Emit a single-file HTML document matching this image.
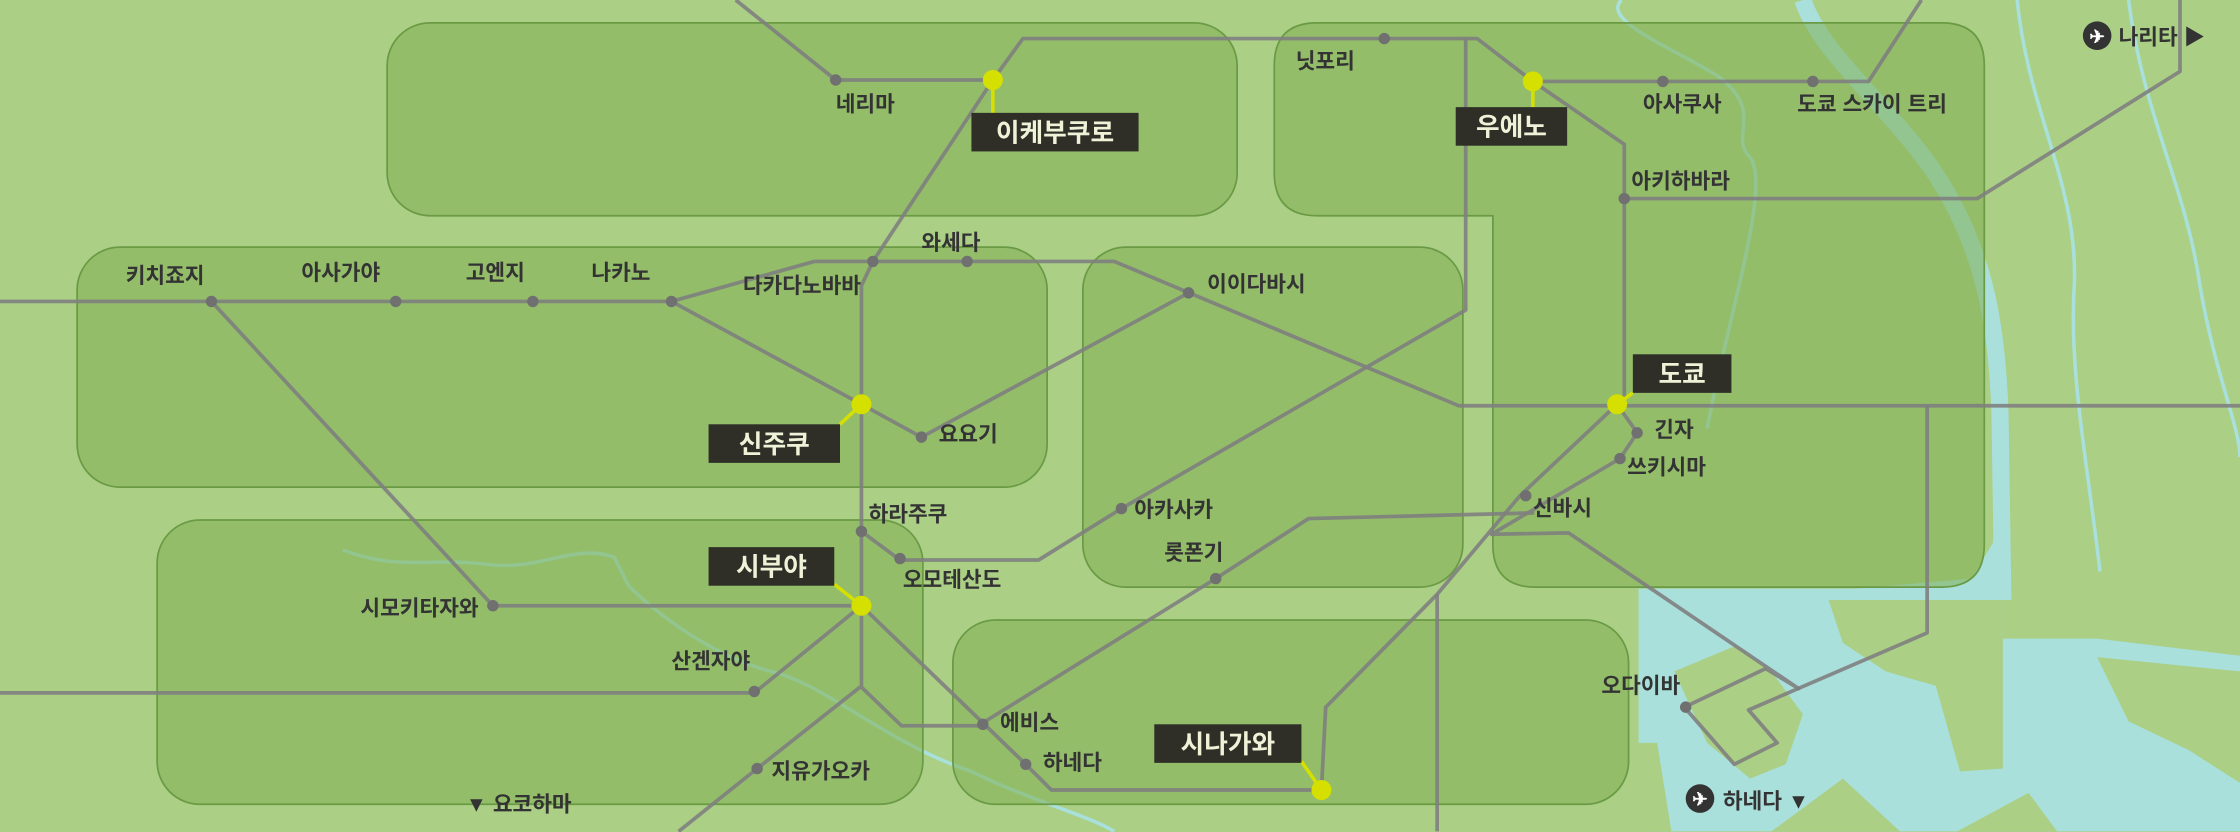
<!DOCTYPE html>
<html><head><meta charset="utf-8"><style>
html,body{margin:0;padding:0;background:#aacf85;}
svg{display:block;}
text{font-family:"Liberation Sans","Noto Sans CJK KR","NanumGothic",sans-serif;}
.s{font-size:15px;font-weight:bold;fill:#333;}
.b{font-size:18px;font-weight:bold;fill:#eef3d8;}
</style></head><body>
<svg width="2240" height="832" viewBox="0 0 1568 582.4" xmlns="http://www.w3.org/2000/svg">
<rect x="0" y="0" width="1568" height="583" fill="#aacf85"/>
<!-- water -->
<path d="M1147,412 L1300,412 L1380,405 L1395,380 L1402,300 L1402,447 L1468,447 L1568,459 L1568,582 L1147,582 Z" fill="#a9e0dc"/>
<path d="M1262,0 C1275,40 1330,80 1360,130 C1390,180 1398,230 1400,290 L1402,420" fill="none" stroke="#a9e0dc" stroke-width="12"/>
<!-- land in bay -->
<g fill="#aacf85">
<path d="M1280,420 L1402,420 L1402,538 L1372,540 L1355,480 L1320,470 L1290,450 Z"/>
<path d="M1172,470 L1215,452 L1240,470 L1262,500 L1250,535 L1225,545 L1195,520 Z"/>
<path d="M1240,582 L1290,545 L1330,582 Z"/>
<path d="M1370,582 L1420,555 L1440,582 Z"/>
<path d="M1468,460 L1568,470 L1568,548 L1532,525 L1490,505 Z"/>
<path d="M1147,520 L1160,520 L1170,582 L1147,582 Z"/>
</g>
<!-- thin rivers -->
<path d="M1135,0 C1120,15 1175,35 1205,55 C1235,80 1210,95 1225,110 C1240,130 1210,220 1195,300" fill="none" stroke="#a9e0dc" stroke-width="2.5"/>
<path d="M1412,0 C1420,80 1455,130 1452,200 C1448,260 1462,330 1470,400" fill="none" stroke="#a9e0dc" stroke-width="2.5"/>
<path d="M1490,0 C1500,80 1530,130 1540,200 C1550,260 1568,300 1568,320" fill="none" stroke="#a9e0dc" stroke-width="2.5"/>
<path d="M240,385 C280,400 300,390 340,395 C380,400 400,380 430,390 L440,410 C460,430 500,460 540,470 C580,480 620,520 680,540 C720,560 760,570 780,582" fill="none" stroke="#a9e0dc" stroke-width="2.5"/>
<!-- boxes -->
<g fill="#7fae52" fill-opacity="0.55" stroke="#6a9a44" stroke-width="1.2">
<rect x="271" y="16" width="595" height="135" rx="30"/>
<rect x="54" y="173" width="679" height="168" rx="30"/>
<rect x="758" y="173" width="266" height="238" rx="30"/>
<path d="M922,16 L1359,16 Q1389,16 1389,46 L1389,381 Q1389,411 1359,411 L1075,411 Q1045,411 1045,381 L1045,151 L922,151 Q892,151 892,121 L892,46 Q892,16 922,16 Z"/>
<rect x="110" y="364" width="536" height="199" rx="30"/>
<rect x="667" y="434" width="473" height="129" rx="30"/>
</g>
<!-- lines -->
<g fill="none" stroke="#808080" stroke-width="2.6" stroke-linejoin="round" stroke-opacity="0.9">
<polyline points="515,0 585,56 695,56"/>
<polyline points="695,56 716,27 1034,27 1073,57 1137,101 1137,283"/>
<polyline points="695,56 611,183 603,200 603,481 631,508 689,508"/>
<polyline points="603,424 688,506 718,535 736,553 925,553 928,495 1006,416 1064,347 1132,283"/>
<polyline points="688,506 851,405 916,363 1074,359"/>
<polyline points="475,582 530,538 602,481"/>
<polyline points="0,485 528,485 603,424"/>
<polyline points="345,424 603,424"/>
<polyline points="148,211 345,424"/>
<polyline points="0,211 470,211 570,183 780,183 1021,284 1568,284"/>
<polyline points="470,211 603,283 645,306 832,205"/>
<polyline points="603,372 630,392 727,392 785,356 1026,217 1026,27"/>
<polyline points="1073,57 1308,57 1345,0"/>
<polyline points="1137,139 1384,139 1526,50 1526,0"/>
<polyline points="1132,283 1146,303 1134,321 1044,374 1098,373 1259,482 1236,468"/>
<polyline points="1006,416 1006,582"/>
<polyline points="1349,284 1349,443 1224,497 1244,520 1214,535 1179,495 1236,468"/>
</g>
<!-- dots -->
<g fill="#707070">
<circle cx="585" cy="56" r="4"/><circle cx="969" cy="27" r="4"/><circle cx="1164" cy="57" r="4"/><circle cx="1269" cy="57" r="4"/>
<circle cx="1137" cy="139" r="4"/><circle cx="148" cy="211" r="4"/><circle cx="277" cy="211" r="4"/><circle cx="373" cy="211" r="4"/>
<circle cx="470" cy="211" r="4"/><circle cx="611" cy="183" r="4"/><circle cx="677" cy="183" r="4"/><circle cx="832" cy="205" r="4"/>
<circle cx="645" cy="306" r="4"/><circle cx="603" cy="372" r="4"/><circle cx="630" cy="391" r="4"/><circle cx="785" cy="356" r="4"/>
<circle cx="851" cy="405" r="4"/><circle cx="1146" cy="303" r="4"/><circle cx="1134" cy="321" r="4"/><circle cx="1068" cy="347" r="4"/>
<circle cx="345" cy="424" r="4"/><circle cx="528" cy="484" r="4"/><circle cx="688" cy="507" r="4"/><circle cx="718" cy="535" r="4"/>
<circle cx="530" cy="538" r="4"/><circle cx="1180" cy="495" r="4"/>
</g>
<!-- yellow stems and dots -->
<g stroke="#d6e000" stroke-width="2.5">
<line x1="695" y1="56" x2="695" y2="79"/><line x1="1073" y1="57" x2="1073" y2="75"/>
<line x1="603" y1="283" x2="588" y2="297"/><line x1="584" y1="409" x2="603" y2="424"/>
<line x1="1143" y1="275" x2="1132" y2="283"/><line x1="911" y1="533" x2="925" y2="553"/>
</g>
<g fill="#d6e000">
<circle cx="695" cy="56" r="7"/><circle cx="1073" cy="57" r="7"/><circle cx="603" cy="283" r="7"/>
<circle cx="603" cy="424" r="7"/><circle cx="1132" cy="283" r="7"/><circle cx="925" cy="553" r="7"/>
</g>
<!-- black labels -->
<g fill="#2f2f28">
<rect x="680" y="79" width="117" height="27"/><rect x="1019" y="75" width="78" height="27"/>
<rect x="496" y="297" width="92" height="27"/><rect x="496" y="383" width="88" height="27"/>
<rect x="1143" y="248" width="69" height="27"/><rect x="808" y="507" width="103" height="27"/>
</g>
<text class="b" x="738.5" y="99" text-anchor="middle">이케부쿠로</text>
<text class="b" x="1058" y="95" text-anchor="middle">우에노</text>
<text class="b" x="542" y="317" text-anchor="middle">신주쿠</text>
<text class="b" x="540" y="403" text-anchor="middle">시부야</text>
<text class="b" x="1177.5" y="268" text-anchor="middle">도쿄</text>
<text class="b" x="859.5" y="527" text-anchor="middle">시나가와</text>
<!-- station labels -->
<text class="s" x="585" y="78">네리마</text>
<text class="s" x="907" y="48">닛포리</text>
<text class="s" x="1150" y="78">아사쿠사</text>
<text class="s" x="1258" y="78">도쿄 스카이 트리</text>
<text class="s" x="1142" y="132">아키하바라</text>
<text class="s" x="88" y="198">키치죠지</text>
<text class="s" x="211" y="196">아사가야</text>
<text class="s" x="326" y="196">고엔지</text>
<text class="s" x="414" y="196">나카노</text>
<text class="s" x="645" y="175">와세다</text>
<text class="s" x="520" y="205">다카다노바바</text>
<text class="s" x="845" y="204">이이다바시</text>
<text class="s" x="657" y="309">요요기</text>
<text class="s" x="608" y="365">하라주쿠</text>
<text class="s" x="632" y="411">오모테산도</text>
<text class="s" x="794" y="362">아카사카</text>
<text class="s" x="815" y="392">롯폰기</text>
<text class="s" x="1158" y="306">긴자</text>
<text class="s" x="1139" y="332">쓰키시마</text>
<text class="s" x="1073" y="361">신바시</text>
<text class="s" x="335" y="431" text-anchor="end">시모키타자와</text>
<text class="s" x="470" y="468">산겐자야</text>
<text class="s" x="700" y="511">에비스</text>
<text class="s" x="730" y="539">하네다</text>
<text class="s" x="540" y="545">지유가오카</text>
<text class="s" x="1121" y="485">오다이바</text>
<text class="s" x="326" y="568">▼ 요코하마</text>
<!-- airports -->
<circle cx="1468" cy="25" r="10" fill="#333"/>
<text x="1468" y="30" text-anchor="middle" style="font-size:13px;font-weight:bold;fill:#fff">✈</text>
<text class="s" x="1483" y="31">나리타 ▶</text>
<circle cx="1190" cy="559" r="10" fill="#333"/>
<text x="1190" y="564" text-anchor="middle" style="font-size:13px;font-weight:bold;fill:#fff">✈</text>
<text class="s" x="1206" y="566">하네다 ▼</text>
</svg>
</body></html>
